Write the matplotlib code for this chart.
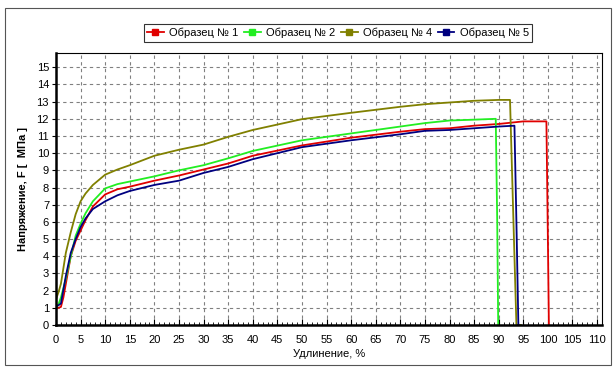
import matplotlib
matplotlib.use("Agg")
import matplotlib.pyplot as plt
from matplotlib.ticker import MultipleLocator
from matplotlib.patches import Rectangle
from matplotlib.lines import Line2D

plt.rcParams['font.family'] = ['Liberation Sans', 'DejaVu Sans']

# Sample 1 (red)
x1 = [0, 0.5, 1, 1.5, 2, 3, 4, 5, 6, 7.5, 10, 12.5, 15, 20, 25, 30, 35, 40, 50, 60, 70, 75, 80, 85, 90, 95, 99.7, 100.0, 100.2]
y1 = [1.0, 1.0, 1.05, 1.6, 2.4, 4.0, 4.9, 5.5, 6.1, 6.9, 7.6, 7.9, 8.05, 8.4, 8.7, 9.05, 9.4, 9.85, 10.45, 10.9, 11.25, 11.4, 11.45, 11.6, 11.7, 11.85, 11.85, 5.0, 0.0]
# Sample 2 (green)
x2 = [0, 0.5, 1, 2, 3, 4, 5, 6, 7.5, 10, 12.5, 15, 20, 25, 30, 35, 40, 50, 60, 70, 75, 80, 85, 89.4, 89.7, 89.9]
y2 = [1.0, 1.2, 1.6, 2.7, 4.0, 5.2, 5.9, 6.5, 7.2, 7.95, 8.2, 8.35, 8.65, 9.0, 9.3, 9.7, 10.13, 10.75, 11.15, 11.55, 11.75, 11.9, 11.95, 12.0, 6.0, 0.0]
# Sample 4 (olive)
x4 = [0, 0.5, 1, 2, 3, 4, 5, 6, 7.5, 10, 12.5, 15, 20, 25, 30, 35, 40, 50, 60, 70, 75, 80, 85, 90, 92.3, 93.0, 93.6, 94.5]
y4 = [1.5, 1.9, 2.4, 4.2, 5.4, 6.45, 7.2, 7.65, 8.15, 8.75, 9.05, 9.3, 9.85, 10.2, 10.5, 10.95, 11.35, 11.98, 12.35, 12.7, 12.85, 12.95, 13.05, 13.1, 13.1, 6.0, 0.0, 0.0]
# Sample 5 (navy)
x5 = [0, 0.5, 1, 2, 3, 4, 5, 6, 7.5, 10, 12.5, 15, 20, 25, 30, 35, 40, 50, 60, 70, 75, 80, 85, 90, 93.2, 93.6, 94.0]
y5 = [1.1, 1.15, 1.25, 2.85, 4.2, 5.0, 5.7, 6.2, 6.75, 7.2, 7.55, 7.8, 8.15, 8.4, 8.85, 9.2, 9.65, 10.35, 10.75, 11.1, 11.3, 11.35, 11.45, 11.55, 11.6, 6.0, 0.0]

labels = ['Образец № 1', 'Образец № 2', 'Образец № 4', 'Образец № 5']
colors = ['#E00000', '#22EE22', '#808000', '#000080']
xticks = list(range(0, 111, 5))
yticks = list(range(0, 16))

fig = plt.figure(figsize=(6.15, 3.68), dpi=100)
fig.patch.set_facecolor('white')
fig.patches.append(Rectangle((5/615, 1 - 365/368), 606/615, 357/368, transform=fig.transFigure,
                             fill=False, edgecolor='#555555', linewidth=0.8))

ax = fig.add_axes([56/615, 1 - 325/368, 546/615, 272/368])
handles = []
for xs, ys, c, lab in zip([x1, x2, x4, x5], [y1, y2, y4, y5], colors, labels):
    ax.plot(xs, ys, color=c, linewidth=1.3)
    handles.append(Line2D([], [], color=c, linewidth=1.3, marker='s', markersize=5,
                          markeredgecolor=c, label=lab))

ax.set_xlim(0, 111)
ax.set_ylim(0, 15.83)
ax.set_xticks(xticks)
ax.set_yticks(yticks)
ax.xaxis.set_minor_locator(MultipleLocator(1))
ax.tick_params(axis='x', which='major', direction='in', length=4, width=0.8, labelsize=8, pad=7)
ax.tick_params(axis='x', which='minor', direction='in', length=2.5, width=0.6)
ax.tick_params(axis='y', which='major', direction='out', length=3, width=0.8, labelsize=8, pad=2)
ax.grid(True, which='major', linestyle=(0, (3, 3)), color='#808080', linewidth=0.8)
ax.set_axisbelow(True)
for s in ['left', 'bottom']:
    ax.spines[s].set_linewidth(1.8)
for s in ['top', 'right']:
    ax.spines[s].set_linewidth(0.8)

ax.set_xlabel('Удлинение, %', fontsize=8, labelpad=3)
ax.set_ylabel('Напряжение, F [  МПа ]', fontsize=8, fontweight='bold', labelpad=6)

leg = fig.legend(handles=handles, loc='center', bbox_to_anchor=(338/615, 1 - 33/368), ncol=4, fontsize=8,
                 frameon=True, fancybox=False, edgecolor='black', handlelength=1.5,
                 handletextpad=0.5, columnspacing=0.5, borderpad=0.3, numpoints=1)
leg.get_frame().set_linewidth(0.8)

fig.savefig('out.png', dpi=100)
